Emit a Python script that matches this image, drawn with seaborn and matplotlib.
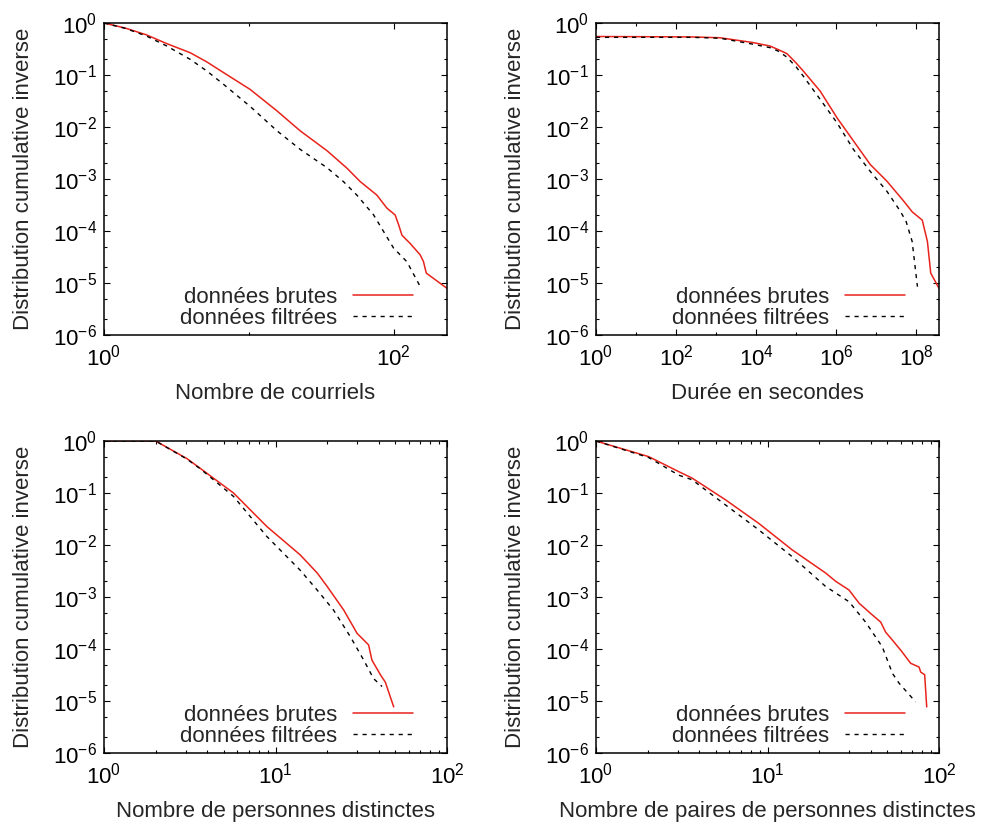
import math
import matplotlib
matplotlib.use('Agg')
import matplotlib.pyplot as plt
import matplotlib.ticker as mticker
import seaborn as sns

# Nombre de courriels
courriels_x_brut = [1, 1.4, 1.97, 2.72, 3.94, 5.14, 6.7, 10.2, 15.7, 22.7, 34.7, 47.6, 58.9, 76.7, 90,
                    102.5, 108.4, 114.3, 130.3, 152.8, 161, 168.3, 234]
courriels_y_brut = [1, 0.80, 0.59, 0.40, 0.268, 0.178, 0.111, 0.053, 0.0203, 0.0084, 0.0035, 0.00162,
                    0.00089, 0.00049, 0.000275, 0.000204, 0.000132, 8.3e-5, 5.75e-5, 3.47e-5, 2.57e-5,
                    1.55e-5, 7.9e-6]
courriels_x_filtre = [1, 1.4, 1.97, 2.72, 3.94, 5.14, 6.7, 10.2, 15.7, 22.7, 34.7, 45.1, 55.8, 72.8, 85.3,
                      100, 123.6, 153]
courriels_y_filtre = [1, 0.79, 0.56, 0.36, 0.2, 0.119, 0.066, 0.025, 0.0084, 0.0037, 0.00165, 0.00089,
                      0.00049, 0.000204, 9.8e-5, 4.7e-5, 2.57e-5, 8.5e-6]

# Durée en secondes
duree_x_brut = [1, 250, 1260, 8500, 22400, 35000, 59000, 100000, 151000, 398000, 1.05e6, 2.7e6, 7.1e6,
                1.82e7, 4.8e7, 7.9e7, 1.41e8, 1.9e8, 2.3e8, 3.7e8]
duree_y_brut = [0.55, 0.54, 0.52, 0.42, 0.36, 0.31, 0.257, 0.17, 0.119, 0.049, 0.015, 0.0054, 0.0019,
                0.00092, 0.00038, 0.000234, 0.000162, 6.3e-5, 1.55e-5, 7.9e-6]
duree_x_filtre = [1, 250, 1260, 8500, 22400, 35000, 59000, 100000, 151000, 398000, 1.05e6, 2.7e6, 7.1e6,
                  1.82e7, 4e7, 5.6e7, 7.9e7, 1.07e8]
duree_y_filtre = [0.53, 0.53, 0.51, 0.39, 0.335, 0.29, 0.22, 0.143, 0.095, 0.034, 0.012, 0.0037, 0.0014,
                  0.00059, 0.00024, 0.000151, 6.3e-5, 8.5e-6]

# Nombre de personnes distinctes
personnes_x_brut = [1, 2, 3.04, 3.63, 5.69, 8.9, 13.9, 17.5, 20, 25, 29.9, 34.9, 36.5, 40.9, 43.7, 48.9]
personnes_y_brut = [1, 1, 0.46, 0.30, 0.1, 0.0227, 0.0065, 0.0029, 0.0016, 0.00056, 0.0002, 0.00012,
                    6.1e-5, 3.2e-5, 2.3e-5, 7.7e-6]
personnes_x_filtre = [1, 2, 3.04, 3.63, 5.69, 8.9, 13.9, 17.5, 21.8, 27.3, 32.7, 37.3, 41.8]
personnes_y_filtre = [1, 1, 0.45, 0.295, 0.086, 0.0146, 0.0033, 0.00136, 0.00056, 0.000173, 6.1e-5,
                      2.7e-5, 1.9e-5]

# Nombre de paires de personnes distinctes
paires_x_brut = [1, 2.03, 3.04, 3.63, 5.69, 8.9, 13.9, 21.8, 25, 29.9, 34.2, 40.9, 45.7, 48.9, 53.5,
                 59.8, 68.4, 76.5, 78.2, 82.5, 84.8]
paires_y_brut = [1, 0.5, 0.257, 0.194, 0.074, 0.026, 0.0081, 0.0029, 0.002, 0.00136, 0.00076, 0.00045,
                 0.00033, 0.00021, 0.000148, 9.5e-5, 5.3e-5, 4.5e-5, 3.6e-5, 3.2e-5, 7.7e-6]
paires_x_filtre = [1, 2.03, 3.04, 3.63, 5.69, 8.9, 13.9, 21.8, 29.9, 37.3, 46.7, 53.5, 58.5, 73.1]
paires_y_filtre = [1, 0.48, 0.22, 0.18, 0.059, 0.0195, 0.006, 0.0016, 0.00081, 0.00033, 0.00011,
                   3.4e-5, 2.2e-5, 9.6e-6]

labels_legende = ['données brutes', 'données filtrées']
ylabel = 'Distribution cumulative inverse'

sns.set_style('ticks')
plt.rcParams['font.family'] = ['Liberation Sans', 'DejaVu Sans']
plt.rcParams['mathtext.fontset'] = 'custom'
plt.rcParams['mathtext.rm'] = 'Liberation Sans'
plt.rcParams['mathtext.it'] = 'Liberation Sans:italic'
plt.rcParams['mathtext.bf'] = 'Liberation Sans:bold'
plt.rcParams['mathtext.default'] = 'regular'

FS = 16
fig = plt.figure(figsize=(9.84, 8.25), dpi=100)

W, H = 984, 825
def box(l, t, r, b):
    return [l / W, 1 - b / H, (r - l) / W, (b - t) / H]

def puissance(v, p):
    return r'$10^{%d}$' % round(math.log10(v))

panels = [
    (box(104, 23, 447, 335), courriels_x_brut, courriels_y_brut, courriels_x_filtre, courriels_y_filtre,
     'Nombre de courriels', (1, 234), [1, 100], [10]),
    (box(596, 23, 939, 335), duree_x_brut, duree_y_brut, duree_x_filtre, duree_y_filtre,
     'Durée en secondes', (1, 3.7e8), [1, 1e2, 1e4, 1e6, 1e8], [10, 1e3, 1e5, 1e7]),
    (box(104, 441, 447, 753), personnes_x_brut, personnes_y_brut, personnes_x_filtre, personnes_y_filtre,
     'Nombre de personnes distinctes', (1, 100), [1, 10, 100], 'sub'),
    (box(596, 441, 939, 753), paires_x_brut, paires_y_brut, paires_x_filtre, paires_y_filtre,
     'Nombre de paires de personnes distinctes', (1, 100), [1, 10, 100], 'sub'),
]

for rect, xb, yb, xf, yf, xlabel, xlim, xmaj, xmin in panels:
    ax = fig.add_axes(rect)
    sns.lineplot(x=xb, y=yb, ax=ax, color='#e8231b', linewidth=1.1, estimator=None, sort=False,
                 label=labels_legende[0])
    sns.lineplot(x=xf, y=yf, ax=ax, color='black', linewidth=1.0, estimator=None, sort=False,
                 linestyle=(0, (3, 3.5)), label=labels_legende[1])
    ax.set_xscale('log')
    ax.set_yscale('log')
    ax.set_xlim(*xlim)
    ax.set_ylim(1e-6, 1)

    ax.xaxis.set_major_locator(mticker.FixedLocator(xmaj))
    if xmin == 'sub':
        ax.xaxis.set_minor_locator(mticker.LogLocator(base=10, subs=range(2, 10)))
    else:
        ax.xaxis.set_minor_locator(mticker.FixedLocator(xmin))
    ax.xaxis.set_minor_formatter(mticker.NullFormatter())
    ax.xaxis.set_major_formatter(mticker.FuncFormatter(puissance))

    ax.yaxis.set_major_locator(mticker.FixedLocator([10.0 ** k for k in range(-6, 1)]))
    ax.yaxis.set_minor_locator(mticker.LogLocator(base=10, subs=(2, 5)))
    ax.yaxis.set_minor_formatter(mticker.NullFormatter())
    ax.yaxis.set_major_formatter(mticker.FuncFormatter(puissance))

    ax.tick_params(which='both', direction='in', top=True, right=True, labelsize=FS, width=0.8,
                   color='black', labelcolor='black')
    ax.tick_params(which='major', length=4.5)
    ax.tick_params(which='minor', length=2.5)
    ax.tick_params(axis='y', which='major', pad=5)
    ax.tick_params(axis='x', which='major', pad=7)
    for s in ax.spines.values():
        s.set_visible(True)
        s.set_linewidth(1.1)
        s.set_color('black')

    ax.set_xlabel(xlabel, fontsize=FS)
    ax.set_ylabel(ylabel, fontsize=FS)
    ax.xaxis.set_label_coords(0.5, -0.154)
    ax.yaxis.set_label_coords(-0.204, 0.5)

    ax.legend(loc='lower right', bbox_to_anchor=(0.901, 0.02), markerfirst=False, frameon=False,
              handlelength=2.7, handletextpad=0.7, labelspacing=0.0, borderpad=0, borderaxespad=0,
              fontsize=FS)

fig.savefig('out.png', dpi=100, facecolor='white')
